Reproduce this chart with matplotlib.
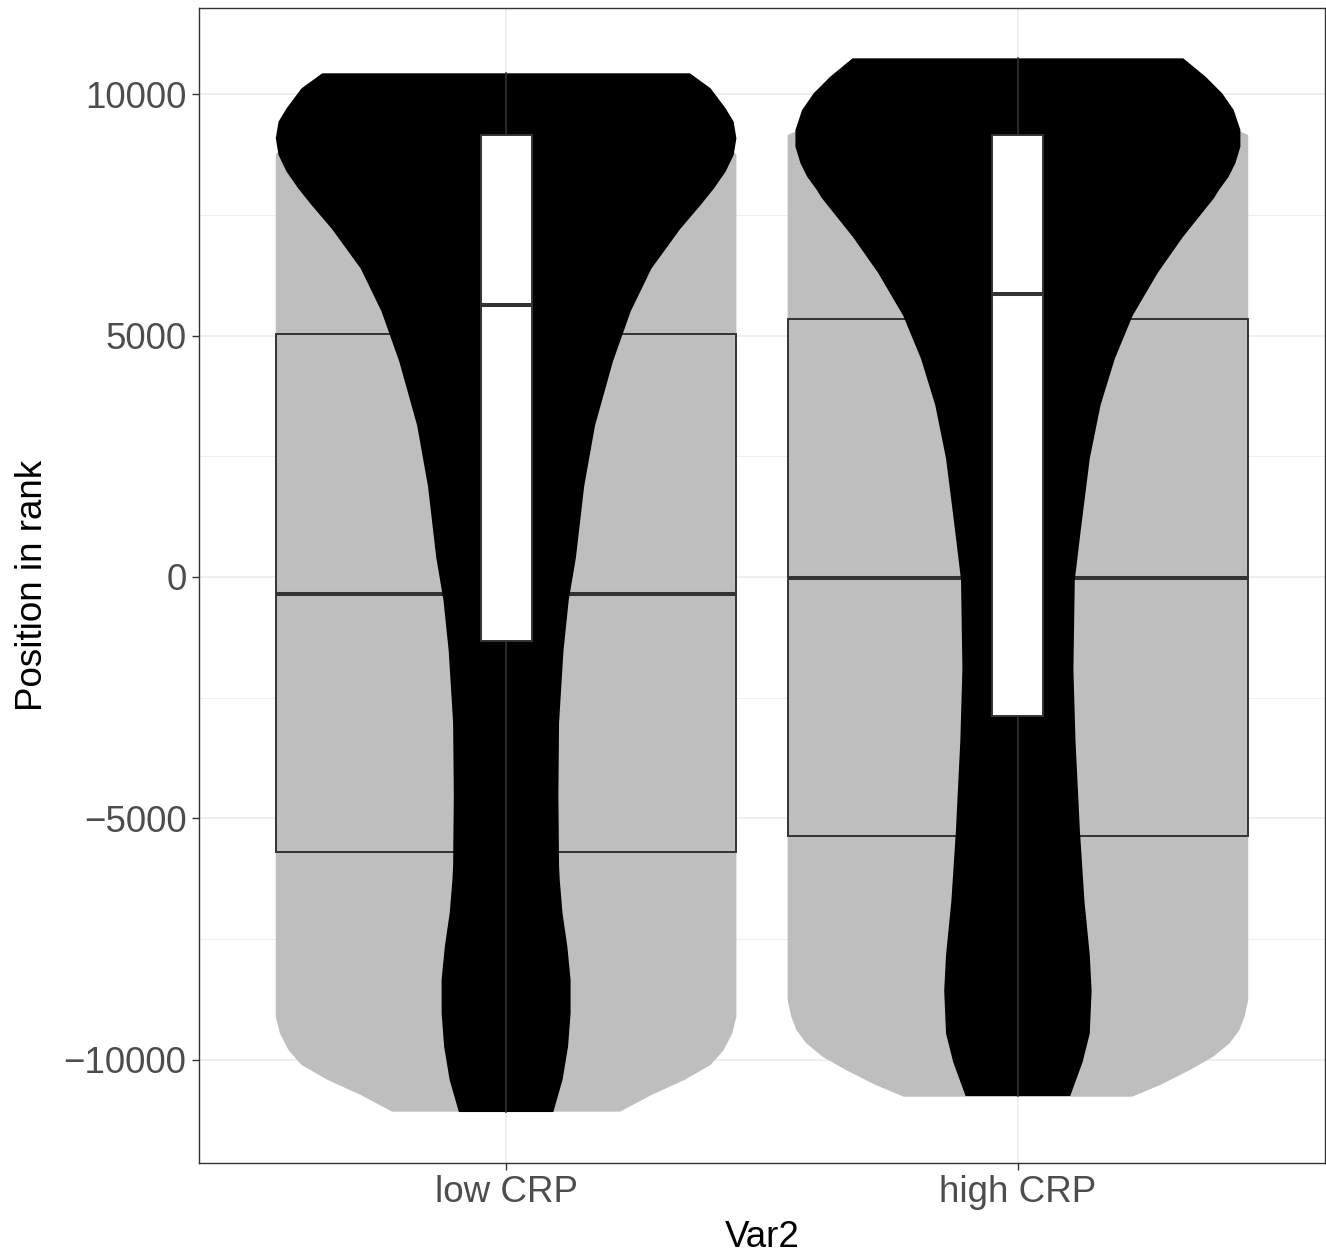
import numpy as np
import matplotlib
matplotlib.use("Agg")
import matplotlib.pyplot as plt
from matplotlib.ticker import FixedLocator

plt.rcParams['font.family'] = ['Liberation Sans', 'DejaVu Sans']

categories = ["low CRP", "high CRP"]

# grey (wide) violins: y levels and relative half width
grey_low_y = [9300, 9000, 8750, -9103, -9447, -9793, -10104, -10414, -10725, -11070]
grey_low_w = [0.60, 0.95, 1.00, 1.00, 0.982, 0.945, 0.888, 0.774, 0.631, 0.495]
grey_high_y = [9450, 9300, 9150, -8758, -9103, -9379, -9655, -9932, -10207, -10518, -10760]
grey_high_w = [0.60, 0.93, 1.00, 1.00, 0.984, 0.962, 0.919, 0.848, 0.747, 0.618, 0.496]

# black (narrow) violins
black_low_y = [10429, 10118, 9704, 9427, 9083, 8737, 8391, 8048, 7702, 7199, 6385,
               5499, 4464, 3133, 1876, 396, -476, -1540, -3020, -4499, -5977,
               -6274, -6963, -7653, -8344, -9034, -9724, -10414, -11078]
black_low_w = [0.798, 0.888, 0.953, 0.988, 1.0, 0.988, 0.953, 0.903, 0.845, 0.755, 0.631,
               0.541, 0.464, 0.386, 0.339, 0.303, 0.272, 0.249, 0.230, 0.227, 0.230,
               0.233, 0.245, 0.266, 0.280, 0.280, 0.269, 0.245, 0.205]
black_high_y = [10739, 10358, 10014, 9669, 9255, 8909, 8565, 8288, 8012, 7849, 7037,
                6296, 5410, 4522, 3561, 2452, 973, -62, -1911, -3389, -5238,
                -6716, -7826, -8565, -9453, -10043, -10747]
black_high_w = [0.718, 0.815, 0.887, 0.937, 0.966, 0.966, 0.944, 0.915, 0.873, 0.852, 0.716,
                0.607, 0.498, 0.421, 0.359, 0.312, 0.273, 0.247, 0.241, 0.250, 0.269,
                0.289, 0.312, 0.320, 0.312, 0.281, 0.227]

# grey boxplots (one per category)
grey_q1 = [-5696, -5370]
grey_med = [-343, -25]
grey_q3 = [5033, 5350]

# white boxplots
white_q1 = [-1333, -2886]
white_med = [5631, 5853]
white_q3 = [9160, 9160]
white_lo = [-11078, -10747]
white_hi = [10429, 10739]

GREY = "#BEBEBE"
LINE = "#333333"
HALF = 0.45


def violin(ax, x, ys, ws, color, z):
    ys = np.asarray(ys)
    ws = np.asarray(ws) * HALF
    ax.fill_betweenx(ys, x - ws, x + ws, facecolor=color, edgecolor='none',
                     linewidth=0, zorder=z)


def box(ax, x, q1, med, q3, width, fill, z):
    ax.add_patch(plt.Rectangle((x - width / 2, q1), width, q3 - q1, facecolor=fill,
                               edgecolor=LINE, linewidth=1.4, zorder=z))
    ax.plot([x - width / 2, x + width / 2], [med, med], color=LINE, lw=2.9,
            solid_capstyle='butt', zorder=z + 0.1)


fig = plt.figure(figsize=(13.26, 12.55), dpi=100)
ax = fig.add_axes([199 / 1326, 1 - 1163 / 1255, 1126 / 1326, 1155 / 1255])

xs = np.arange(1, len(categories) + 1)

violin(ax, xs[0], grey_low_y, grey_low_w, GREY, 2)
violin(ax, xs[1], grey_high_y, grey_high_w, GREY, 2)
for i, x in enumerate(xs):
    box(ax, x, grey_q1[i], grey_med[i], grey_q3[i], 0.9, GREY, 3)

violin(ax, xs[0], black_low_y, black_low_w, "black", 4)
violin(ax, xs[1], black_high_y, black_high_w, "black", 4)
for i, x in enumerate(xs):
    ax.plot([x, x], [white_q3[i], white_hi[i]], color=LINE, lw=1.2, zorder=5)
    ax.plot([x, x], [white_lo[i], white_q1[i]], color=LINE, lw=1.2, zorder=5)
    box(ax, x, white_q1[i], white_med[i], white_q3[i], 0.1, "white", 5)

ax.set_xlim(0.4, 2.6)
ax.set_ylim(-12133, 11781)
ax.set_xticks(xs)
ax.set_xticklabels(categories)
ax.set_yticks([-10000, -5000, 0, 5000, 10000])
ax.set_yticklabels(["\u221210000", "\u22125000", "0", "5000", "10000"])
ax.yaxis.set_minor_locator(FixedLocator([-7500, -2500, 2500, 7500]))

ax.set_axisbelow(True)
ax.grid(which='major', color="#EBEBEB", lw=1.1, zorder=0)
ax.grid(which='minor', axis='y', color="#EBEBEB", lw=0.6, zorder=0)
ax.tick_params(which='major', length=5, width=1.0, color=LINE,
               labelsize=26.5, labelcolor="#4D4D4D", pad=4)
ax.tick_params(which='minor', length=0)
for s in ax.spines.values():
    s.set_color(LINE)
    s.set_linewidth(1.0)

ax.set_xlabel("Var2", fontsize=26.5, color="black", labelpad=7)
ax.set_ylabel("Position in rank", fontsize=26.5, color="black", labelpad=10)

fig.savefig("out.png", dpi=100)
